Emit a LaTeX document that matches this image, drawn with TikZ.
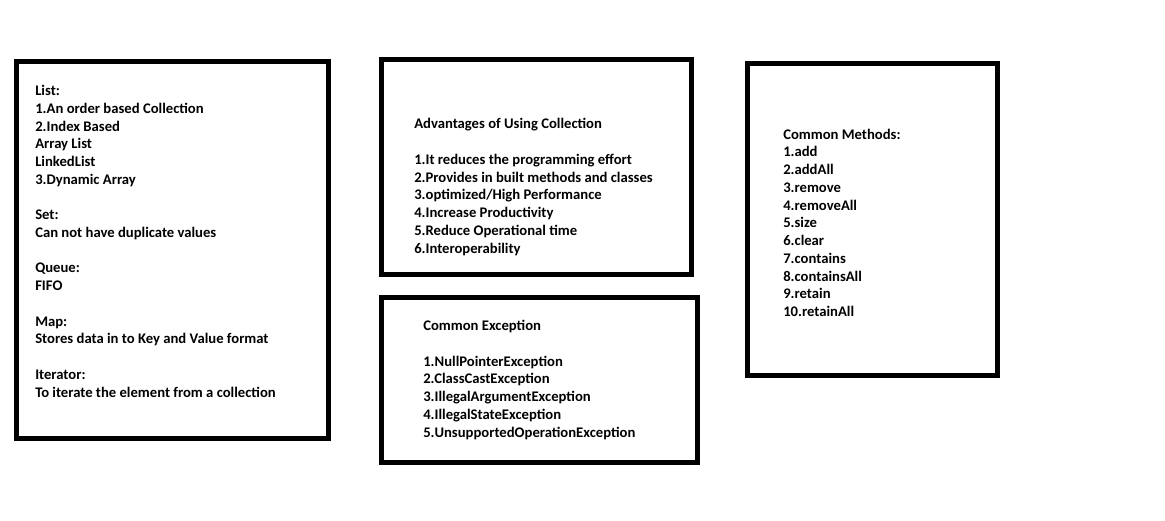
\documentclass[tikz,border=0pt]{standalone}
\usepackage{fontspec}
\setmainfont{Carlito}
\begin{document}
\begin{tikzpicture}[x=0.75pt,y=-0.75pt,
  panel/.style={draw=black,line width=3.75pt,fill=white},
  txt/.style={anchor=base west,inner sep=0pt,align=left,
    font=\fontsize{11}{13.3}\selectfont\bfseries}]
\useasboundingbox[fill=white] (0,0) rectangle (1165,521);
\draw[panel] (16.5,61.5) rectangle (328.5,438.5);
\draw[panel] (381.5,59.5) rectangle (691.5,274.5);
\draw[panel] (381.5,297.5) rectangle (697.5,462.5);
\draw[panel] (747.5,63.5) rectangle (997.5,375.5);
% anchors are at the baseline of each block's last line
\node[txt] (list) at (35,397) {List:\\1.An order based Collection\\2.Index Based\\Array List\\LinkedList\\3.Dynamic Array\\[13.3pt]Set:\\Can not have duplicate values\\[13.3pt]Queue:\\FIFO\\[13.3pt]Map:\\Stores data in to Key and Value format\\[13.3pt]Iterator:\\To iterate the element from a collection};
\node[txt] (adv) at (414,253) {Advantages of Using Collection\\[13.3pt]1.It reduces the programming effort\\2.Provides in built methods and classes\\3.optimized/High Performance\\4.Increase Productivity\\5.Reduce Operational time\\6.Interoperability};
\node[txt] (exc) at (423,437) {Common Exception\\[13.3pt]1.NullPointerException\\2.ClassCastException\\3.IllegalArgumentException\\4.IllegalStateException\\5.UnsupportedOperationException};
\node[txt] (meth) at (783,316.5) {Common Methods:\\1.add\\2.addAll\\3.remove\\4.removeAll\\5.size\\6.clear\\7.contains\\8.containsAll\\9.retain\\10.retainAll};
\end{tikzpicture}
\end{document}
